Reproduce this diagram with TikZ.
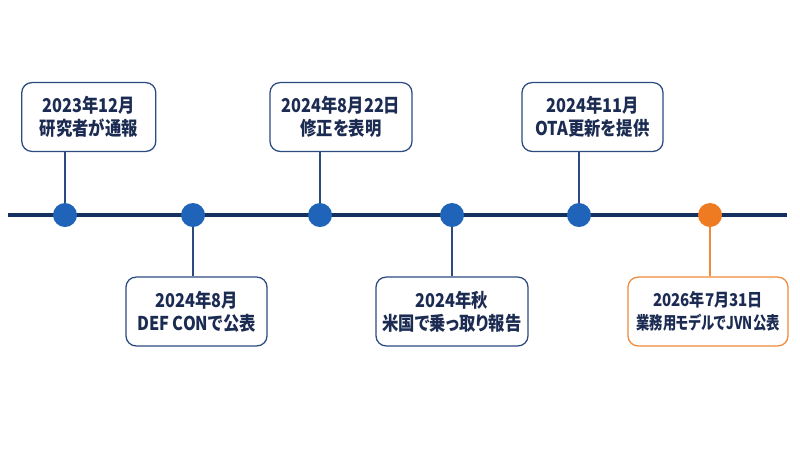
\documentclass[tikz,border=0pt]{standalone}
\usepackage{fontspec}
\setmainfont{Noto Sans CJK JP}[FakeStretch=0.86, RawFeature=+palt]
\usetikzlibrary{positioning}
\definecolor{lineNavy}{HTML}{15315F}
\definecolor{textNavy}{HTML}{1B2B52}
\definecolor{dotBlue}{HTML}{1F64B8}
\definecolor{edgeBlue}{HTML}{2B4A80}
\definecolor{dotOrange}{HTML}{EE7A22}
\definecolor{edgeOrange}{HTML}{F08A3A}

\begin{document}
\begin{tikzpicture}[x=0.025cm, y=-0.025cm,
    event/.style={rectangle, rounded corners=0.25cm, line width=0.9pt,
                  fill=white, align=center, text=textNavy, inner xsep=0.1cm,
                  minimum height=1.72cm, font=\bfseries\fontsize{13.5}{16.5}\selectfont},
    eventBlue/.style={event, draw=edgeBlue},
    eventOrange/.style={event, draw=edgeOrange,
                        font=\bfseries\fontsize{12.5}{16.5}\selectfont},
    dot/.style={circle, minimum size=0.6cm, inner sep=0pt},
    stem/.style={line width=0.9pt},
  ]
    \useasboundingbox (0,0) rectangle (800,450);

    % Axis
    \coordinate (axisL) at (8,215);
    \coordinate (axisR) at (787,215);
    \draw[lineNavy, line width=2.8pt] (axisL) -- (axisR);

    % Events: index / dot x / box x / box y / box width / anchor / tone / text
    \foreach \n/\x/\bx/\by/\w/\an/\tone/\txt in {%
      1/65/88.8/117/134/south/Blue/{2023年12月\\研究者が通報},
      2/193/196.5/311.5/141/north/Blue/{2024年8月\\DEF CONで公表},
      3/320/341/117/142/south/Blue/{2024年8月22日\\修正を表明},
      4/452/452/311.5/152/north/Blue/{2024年秋\\米国で乗っ取り報告},
      5/579/592.5/117/141/south/Blue/{2024年11月\\OTA更新を提供},
      6/710/708/311.5/160/north/Orange/{2026年7月31日\\\scalebox{0.88}[1]{業務用モデルでJVN公表}}}{
      \node[event\tone, minimum width=\w*0.025cm] (b\n) at (\bx,\by) {\txt};
      \node[dot, fill=dot\tone] (d\n) at (\x,215) {};
      \draw[stem, edge\tone] (d\n) -- (d\n |- b\n.\an);
    }
\end{tikzpicture}
\end{document}
